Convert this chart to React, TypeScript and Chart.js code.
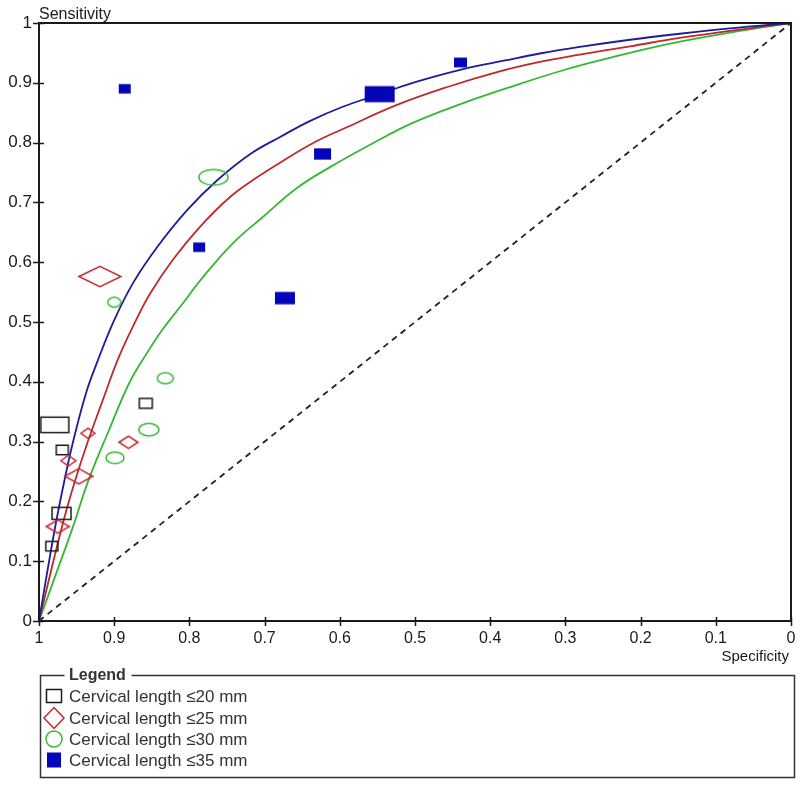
import React, { useEffect, useRef } from 'react';
import { Chart, registerables } from 'chart.js';
Chart.register(...registerables);

// ---- Study points (specificity, sensitivity, relative weight) ----
const cl20Spec = [0.858, 0.979, 0.969, 0.970, 0.983];
const cl20Sens = [0.364, 0.328, 0.286, 0.180, 0.125];
const cl20Weight = [1.3, 2.8, 1.2, 1.9, 1.2];

const cl25Spec = [0.919, 0.935, 0.881, 0.961, 0.947, 0.975];
const cl25Sens = [0.576, 0.314, 0.299, 0.268, 0.242, 0.158];
const cl25Weight = [4.2, 1.4, 1.9, 1.5, 2.8, 2.3];

const cl30Spec = [0.768, 0.900, 0.832, 0.854, 0.899];
const cl30Sens = [0.742, 0.533, 0.406, 0.320, 0.273];
const cl30Weight = [2.9, 1.3, 1.6, 2.0, 1.8];

const cl35Spec = [0.886, 0.4395, 0.547, 0.623, 0.787, 0.673];
const cl35Sens = [0.890, 0.934, 0.881, 0.781, 0.625, 0.540];
const cl35Weight = [1.2, 1.3, 3.0, 1.7, 1.2, 2.0];

// ---- SROC curves (specificity, sensitivity) ----
const srocBlueSpec = [1, 0.981, 0.968, 0.955, 0.9375, 0.922, 0.9, 0.875, 0.843, 0.803, 0.763, 0.719, 0.68, 0.64, 0.596, 0.547, 0.503, 0.436, 0.378, 0.334, 0.281, 0.214, 0.148, 0.081, 0];
const srocBlueSens = [0, 0.14, 0.224, 0.298, 0.381, 0.435, 0.503, 0.565, 0.625, 0.687, 0.737, 0.781, 0.809, 0.836, 0.86, 0.881, 0.9, 0.923, 0.938, 0.949, 0.96, 0.972, 0.982, 0.991, 1];

const srocRedSpec = [1, 0.973, 0.957, 0.9375, 0.915, 0.894, 0.871, 0.852, 0.822, 0.786, 0.746, 0.71, 0.68, 0.636, 0.59, 0.524, 0.457, 0.391, 0.334, 0.281, 0.214, 0.148, 0.081, 0];
const srocRedSens = [0, 0.14, 0.214, 0.291, 0.37, 0.441, 0.503, 0.548, 0.604, 0.659, 0.709, 0.742, 0.766, 0.799, 0.826, 0.863, 0.893, 0.918, 0.935, 0.947, 0.961, 0.975, 0.987, 1];

const srocGreenSpec = [1, 0.977, 0.955, 0.934, 0.907, 0.88, 0.858, 0.836, 0.8125, 0.782, 0.742, 0.702, 0.657, 0.613, 0.556, 0.503, 0.436, 0.378, 0.303, 0.237, 0.17, 0.104, 0.037, 0];
const srocGreenSens = [0, 0.08, 0.157, 0.236, 0.319, 0.398, 0.445, 0.487, 0.525, 0.575, 0.632, 0.676, 0.724, 0.759, 0.799, 0.833, 0.866, 0.891, 0.921, 0.943, 0.963, 0.979, 0.993, 1];

const diagSpec = [1, 0];
const diagSens = [0, 1];

const legendLabels = [
  'Cervical length \u226420 mm',
  'Cervical length \u226425 mm',
  'Cervical length \u226430 mm',
  'Cervical length \u226435 mm',
];

const BLACK = '#1a1a1a';
const RED = '#c0282d';
const GREEN = '#35b735';
const BLUE_LINE = '#1c1c9c';
const BLUE_FILL = '#0505b8';
const FONT = '"Liberation Sans", Arial, Helvetica, sans-serif';

type Shape = 'rect' | 'diamond' | 'ellipse' | 'fill';

function drawShape(ctx: CanvasRenderingContext2D, shape: Shape, color: string, cx: number, cy: number, w: number, h: number) {
  ctx.save();
  ctx.lineWidth = 1.5;
  ctx.strokeStyle = color;
  ctx.fillStyle = color;
  ctx.beginPath();
  if (shape === 'rect') {
    ctx.strokeRect(cx - w / 2, cy - h / 2, w, h);
  } else if (shape === 'fill') {
    ctx.fillRect(cx - w / 2, cy - h / 2, w, h);
  } else if (shape === 'diamond') {
    ctx.moveTo(cx - w / 2, cy);
    ctx.lineTo(cx, cy - h / 2);
    ctx.lineTo(cx + w / 2, cy);
    ctx.lineTo(cx, cy + h / 2);
    ctx.closePath();
    ctx.stroke();
  } else {
    ctx.ellipse(cx, cy, w / 2, h / 2, 0, 0, Math.PI * 2);
    ctx.stroke();
  }
  ctx.restore();
}

function makeMarker(shape: Shape, color: string, weight: number): HTMLCanvasElement {
  const w = weight * 10;
  const h = 5 + w * 0.37;
  const c = document.createElement('canvas');
  c.width = Math.ceil(w + 4);
  c.height = Math.ceil(h + 4);
  const ctx = c.getContext('2d')!;
  drawShape(ctx, shape, color, c.width / 2, c.height / 2, w, h);
  return c;
}

const toPts = (xs: number[], ys: number[]) => xs.map((x, i) => ({ x, y: ys[i] }));

const fmt = (v: number | string) => String(Math.round(Number(v) * 10) / 10);

const decorPlugin = {
  id: 'decor',
  afterDraw(chart: any) {
    const { ctx, chartArea } = chart;
    const xs = chart.scales.x;
    const ys = chart.scales.y;
    const { left, right, top, bottom } = chartArea;
    ctx.save();
    // frame
    ctx.strokeStyle = BLACK;
    ctx.lineWidth = 2;
    ctx.strokeRect(left, top, right - left, bottom - top);
    // ticks
    ctx.lineWidth = 1.5;
    for (let i = 0; i <= 10; i++) {
      const v = i / 10;
      const px = Math.round(xs.getPixelForValue(v)) + 0.5;
      ctx.beginPath();
      ctx.moveTo(px, bottom - 4);
      ctx.lineTo(px, bottom + 5);
      ctx.stroke();
      const py = Math.round(ys.getPixelForValue(v)) + 0.5;
      ctx.beginPath();
      ctx.moveTo(left - 6, py);
      ctx.lineTo(left + 5, py);
      ctx.stroke();
    }
    // axis titles
    ctx.fillStyle = BLACK;
    ctx.font = `16px ${FONT}`;
    ctx.textBaseline = 'alphabetic';
    ctx.textAlign = 'left';
    ctx.fillText('Sensitivity', left, 19);
    ctx.textAlign = 'right';
    ctx.font = `15px ${FONT}`;
    ctx.fillText('Specificity', right - 2, 661);

    // legend box
    const bx = 40.5, by = 675.5, bw = 754, bh = 102;
    ctx.strokeStyle = '#333';
    ctx.lineWidth = 1.5;
    ctx.beginPath();
    ctx.moveTo(bx + 24, by);
    ctx.lineTo(bx, by);
    ctx.lineTo(bx, by + bh);
    ctx.lineTo(bx + bw, by + bh);
    ctx.lineTo(bx + bw, by);
    ctx.lineTo(bx + 91, by);
    ctx.stroke();
    ctx.font = `bold 16px ${FONT}`;
    ctx.textAlign = 'left';
    ctx.textBaseline = 'middle';
    ctx.fillStyle = '#333';
    ctx.fillText('Legend', 69, by);

    const shapes: [Shape, string, number, number][] = [
      ['rect', BLACK, 15, 13],
      ['diamond', RED, 20, 21],
      ['ellipse', GREEN, 16, 16],
      ['fill', BLUE_FILL, 14, 15],
    ];
    const rowY = [696, 718, 739, 760];
    ctx.font = `17px ${FONT}`;
    legendLabels.forEach((lab, i) => {
      const [s, col, w, h] = shapes[i];
      drawShape(ctx, s, col, 54, rowY[i], w, h);
      ctx.fillStyle = '#333';
      ctx.fillText(lab, 69, rowY[i] + 1);
    });
    ctx.restore();
  },
};

export default function App() {
  const ref = useRef<HTMLCanvasElement | null>(null);
  useEffect(() => {
    if (!ref.current) return;
    const m20 = cl20Weight.map((w) => makeMarker('rect', BLACK, w));
    const m25 = cl25Weight.map((w) => makeMarker('diamond', RED, w));
    const m30 = cl30Weight.map((w) => makeMarker('ellipse', GREEN, w));
    const m35 = cl35Weight.map((w) => makeMarker('fill', BLUE_FILL, w));
    const markerDs = (label: string, data: any[], markers: HTMLCanvasElement[]) => ({
      label,
      data,
      showLine: false,
      pointRadius: 3,
      pointStyle: (c: any) => markers[c.dataIndex],
      clip: false as any,
    });
    const lineDs = (label: string, data: any[], color: string, extra: any = {}) => ({
      label,
      data,
      showLine: true,
      borderColor: color,
      borderWidth: 1.8,
      pointRadius: 0,
      tension: 0.4,
      ...extra,
    });
    const chart = new Chart(ref.current, {
      type: 'scatter',
      data: {
        datasets: [
          markerDs(legendLabels[3], toPts(cl35Spec, cl35Sens), m35),
          markerDs(legendLabels[2], toPts(cl30Spec, cl30Sens), m30),
          markerDs(legendLabels[1], toPts(cl25Spec, cl25Sens), m25),
          markerDs(legendLabels[0], toPts(cl20Spec, cl20Sens), m20),
          lineDs('SROC 35', toPts(srocBlueSpec, srocBlueSens), BLUE_LINE),
          lineDs('SROC 25', toPts(srocRedSpec, srocRedSens), RED),
          lineDs('SROC 30', toPts(srocGreenSpec, srocGreenSens), GREEN),
          lineDs('Chance', toPts(diagSpec, diagSens), '#222', { borderDash: [6, 5], tension: 0, borderWidth: 1.8 }),
        ],
      },
      options: {
        responsive: false,
        animation: false,
        events: [],
        layout: { padding: { top: 23, right: 9, left: 0, bottom: 0 } },
        plugins: { legend: { display: false }, tooltip: { enabled: false } },
        scales: {
          x: {
            type: 'linear',
            reverse: true,
            min: 0,
            max: 1,
            grid: { display: false, drawTicks: false },
            border: { display: false },
            ticks: { stepSize: 0.1, padding: 8, color: BLACK, font: { family: FONT, size: 16 }, callback: fmt, maxRotation: 0, autoSkip: false },
            afterFit: (s: any) => { s.height = 165; s.paddingLeft = 0; s.paddingRight = 0; },
          },
          y: {
            type: 'linear',
            min: 0,
            max: 1,
            grid: { display: false, drawTicks: false },
            border: { display: false },
            ticks: { stepSize: 0.1, padding: 7, color: BLACK, font: { family: FONT, size: 17 }, callback: fmt, autoSkip: false },
            afterFit: (s: any) => { s.width = 39; s.paddingTop = 0; s.paddingBottom = 0; },
          },
        },
      },
      plugins: [decorPlugin],
    });
    return () => chart.destroy();
  }, []);
  return (
    <div style={{ position: 'absolute', left: 0, top: 0, width: 800, height: 786, background: '#fff' }}>
      <canvas ref={ref} width={800} height={786} style={{ display: 'block' }} />
    </div>
  );
}
